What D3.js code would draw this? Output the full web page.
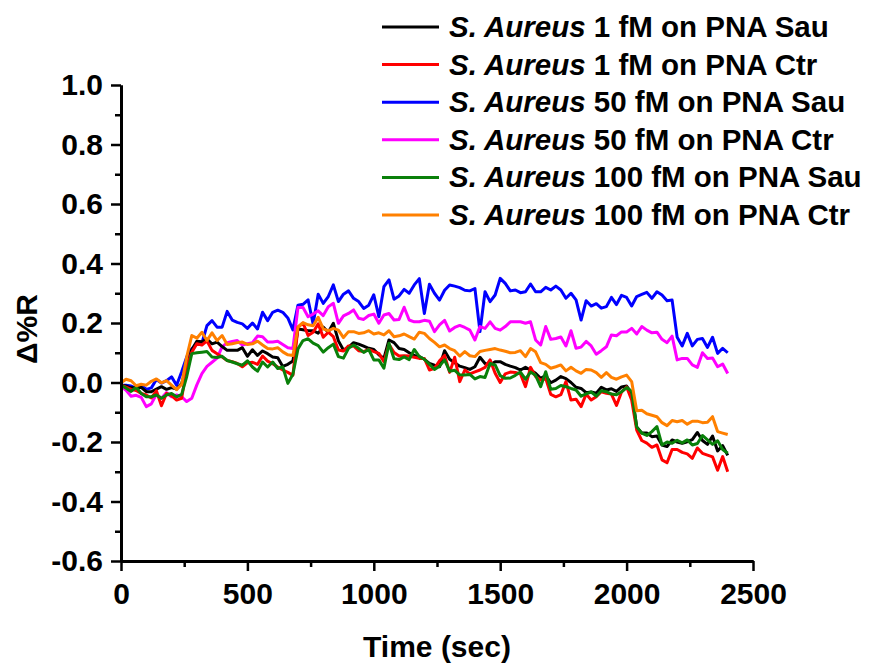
<!DOCTYPE html>
<html>
<head>
<meta charset="utf-8">
<script src="https://cdn.jsdelivr.net/npm/d3@7"></script>
<style>
  html, body { margin: 0; padding: 0; background: #fff; }
  svg { display: block; font-family: "Liberation Sans", Arial, Helvetica, sans-serif; }
</style>
</head>
<body>
<svg id="chart" width="869" height="663"></svg>
<script>
// Sampling interval of the SPR sensorgrams (seconds)
const sampleStep = 20;

// Δ%R readings, one value per sample, starting at t = 0 s
const sau1fM = [
-0.01,-0.012,-0.018,-0.018,-0.016,-0.031,-0.031,-0.022,-0.014,-0.023,
-0.017,-0.022,-0.003,0.052,0.11,0.139,0.137,0.146,0.13,0.136,
0.121,0.108,0.108,0.108,0.117,0.088,0.11,0.091,0.106,0.097,
0.086,0.083,0.054,0.061,0.072,0.18,0.177,0.174,0.174,0.166,
0.186,0.169,0.199,0.14,0.109,0.118,0.134,0.129,0.122,0.115,
0.111,0.093,0.081,0.143,0.134,0.114,0.111,0.1,0.091,0.087,
0.078,0.064,0.058,0.053,0.107,0.078,0.066,0.055,0.05,0.044,
0.053,0.085,0.064,0.059,0.07,0.07,0.061,0.055,0.05,0.042,
0.051,0.042,0.031,0.014,0.023,-0.001,0.008,0.02,0.013,0.0,
-0.016,-0.02,-0.034,-0.032,-0.036,-0.016,-0.025,-0.021,-0.03,-0.015,
-0.012,-0.036,-0.149,-0.17,-0.17,-0.182,-0.18,-0.21,-0.215,-0.193,
-0.2,-0.204,-0.199,-0.192,-0.168,-0.195,-0.208,-0.18,-0.23,-0.212,
-0.245];

const ctr1fM = [
-0.009,-0.016,-0.023,-0.027,-0.037,-0.042,-0.052,-0.028,-0.078,-0.037,
-0.044,-0.059,-0.053,0.052,0.102,0.13,0.126,0.14,0.108,0.097,
0.086,0.074,0.07,0.064,0.053,0.066,0.068,0.061,0.089,0.072,
0.063,0.052,0.042,0.034,0.024,0.186,0.2,0.158,0.169,0.197,
0.152,0.169,0.154,0.109,0.106,0.123,0.123,0.107,0.104,0.111,
0.104,0.098,0.07,0.128,0.101,0.089,0.09,0.089,0.085,0.081,
0.081,0.042,0.048,0.073,0.091,0.034,0.085,0.003,0.042,0.029,
0.036,0.042,0.051,0.076,0.031,0.0,0.029,0.035,0.034,0.029,
-0.014,0.051,0.02,0.008,0.014,-0.04,-0.048,-0.041,0.003,-0.059,
-0.056,-0.081,-0.039,-0.059,-0.048,-0.031,-0.036,-0.039,-0.077,-0.032,
-0.015,-0.059,-0.16,-0.195,-0.204,-0.218,-0.21,-0.26,-0.27,-0.225,
-0.225,-0.235,-0.24,-0.255,-0.22,-0.238,-0.244,-0.25,-0.295,-0.249,
-0.3];

const sau50fM = [
-0.009,-0.009,-0.012,-0.019,-0.009,-0.023,-0.018,0.01,-0.002,0.006,
0.019,-0.009,0.036,0.086,0.113,0.13,0.132,0.191,0.208,0.186,
0.186,0.239,0.21,0.202,0.197,0.182,0.2,0.18,0.236,0.208,
0.236,0.243,0.236,0.217,0.177,0.26,0.263,0.278,0.197,0.297,
0.266,0.289,0.328,0.272,0.297,0.308,0.283,0.272,0.249,0.26,
0.295,0.221,0.322,0.345,0.28,0.291,0.313,0.3,0.328,0.349,
0.232,0.33,0.3,0.277,0.31,0.328,0.324,0.319,0.31,0.308,
0.316,0.171,0.305,0.272,0.294,0.35,0.333,0.308,0.311,0.302,
0.305,0.331,0.305,0.305,0.32,0.311,0.324,0.311,0.283,0.3,
0.278,0.21,0.275,0.257,0.265,0.25,0.255,0.286,0.262,0.293,
0.286,0.257,0.289,0.296,0.303,0.283,0.305,0.294,0.275,0.277,
0.152,0.123,0.165,0.123,0.145,0.148,0.118,0.152,0.098,0.115,
0.1];

const ctr50fM = [
-0.013,-0.026,-0.046,-0.043,-0.05,-0.081,-0.072,-0.04,-0.053,-0.034,
-0.048,-0.042,-0.048,-0.064,-0.053,-0.008,0.03,0.054,0.068,0.082,
0.12,0.134,0.138,0.141,0.126,0.13,0.134,0.156,0.154,0.136,
0.136,0.139,0.128,0.117,0.114,0.252,0.252,0.221,0.23,0.241,
0.225,0.255,0.266,0.199,0.224,0.232,0.244,0.216,0.212,0.225,
0.23,0.199,0.227,0.232,0.21,0.212,0.253,0.21,0.204,0.204,
0.209,0.206,0.171,0.194,0.209,0.173,0.185,0.192,0.185,0.176,
0.143,0.188,0.182,0.204,0.182,0.176,0.188,0.204,0.204,0.204,
0.199,0.204,0.143,0.126,0.188,0.145,0.148,0.153,0.123,0.174,
0.115,0.119,0.138,0.123,0.095,0.107,0.12,0.16,0.157,0.17,
0.17,0.182,0.163,0.188,0.176,0.167,0.169,0.145,0.134,0.156,
0.076,0.081,0.081,0.059,0.051,0.1,0.081,0.082,0.053,0.062,
0.03];

const sau100fM = [
-0.009,-0.019,-0.03,-0.016,-0.037,-0.048,-0.048,-0.042,-0.053,-0.042,
-0.037,-0.048,-0.04,0.02,0.097,0.1,0.102,0.104,0.086,0.084,
0.088,0.074,0.069,0.063,0.058,0.073,0.052,0.038,0.069,0.052,
0.069,0.047,0.052,-0.003,0.028,0.113,0.141,0.147,0.132,0.124,
0.102,0.117,0.129,0.087,0.082,0.115,0.126,0.115,0.101,0.111,
0.076,0.076,0.048,0.132,0.08,0.077,0.086,0.077,0.111,0.087,
0.078,0.061,0.044,0.055,0.076,0.038,0.041,0.026,0.025,0.027,
0.012,0.02,0.017,0.064,0.059,0.023,0.014,0.015,0.024,0.035,
0.011,0.035,0.024,-0.014,0.036,-0.023,-0.02,-0.01,-0.014,-0.02,
-0.025,-0.046,-0.038,-0.032,-0.046,-0.028,-0.031,-0.039,-0.041,-0.031,
-0.017,-0.03,-0.15,-0.17,-0.178,-0.165,-0.148,-0.21,-0.2,-0.204,
-0.194,-0.203,-0.193,-0.21,-0.205,-0.178,-0.193,-0.208,-0.196,-0.225,
-0.238];

const ctr100fM = [
-0.001,0.011,0.006,-0.011,-0.006,-0.009,0.004,0.012,-0.001,0.006,
-0.009,-0.024,-0.006,0.086,0.158,0.149,0.169,0.141,0.167,0.141,
0.158,0.128,0.13,0.134,0.136,0.128,0.13,0.139,0.126,0.114,
0.113,0.117,0.103,0.093,0.091,0.186,0.201,0.194,0.191,0.219,
0.18,0.174,0.182,0.176,0.151,0.171,0.171,0.165,0.167,0.174,
0.163,0.167,0.16,0.174,0.154,0.157,0.163,0.154,0.146,0.169,
0.165,0.148,0.135,0.12,0.126,0.114,0.107,0.089,0.104,0.09,
0.087,0.104,0.108,0.111,0.114,0.109,0.105,0.1,0.101,0.107,
0.087,0.114,0.103,0.067,0.061,0.048,0.053,0.059,0.039,0.051,
0.039,0.031,0.044,0.042,0.033,0.017,0.033,0.017,0.011,0.019,
0.025,0.003,-0.095,-0.093,-0.105,-0.11,-0.115,-0.135,-0.145,-0.128,
-0.132,-0.128,-0.14,-0.13,-0.13,-0.135,-0.134,-0.115,-0.165,-0.17,
-0.175];

// Legend entries (italic species name + plain remainder), colours, and data
const seriesNames = [
  ["S. Aureus", " 1 fM on PNA Sau"],
  ["S. Aureus", " 1 fM on PNA Ctr"],
  ["S. Aureus", " 50 fM on PNA Sau"],
  ["S. Aureus", " 50 fM on PNA Ctr"],
  ["S. Aureus", " 100 fM on PNA Sau"],
  ["S. Aureus", " 100 fM on PNA Ctr"]
];
const seriesColors = ["#000000", "#ff0000", "#0000ff", "#ff00ff", "#0a800a", "#ff8000"];
const seriesValues = [sau1fM, ctr1fM, sau50fM, ctr50fM, sau100fM, ctr100fM];
// drawing order (later on top)
const drawOrder = [2, 3, 0, 1, 4, 5];

const xTicks = [0, 500, 1000, 1500, 2000, 2500];
const xMinorTicks = [250, 750, 1250, 1750, 2250];
const yTicks = [-0.6, -0.4, -0.2, 0.0, 0.2, 0.4, 0.6, 0.8, 1.0];
const yMinorTicks = [-0.5, -0.3, -0.1, 0.1, 0.3, 0.5, 0.7, 0.9];

const plot = { left: 121, right: 753, top: 85, bottom: 561 };

const svg = d3.select("#chart");

const x = d3.scaleLinear().domain([0, 2500]).range([plot.left, plot.right]);
const y = d3.scaleLinear().domain([-0.6, 1.0]).range([plot.bottom, plot.top]);

// Series lines
const line = d3.line()
  .x((d, i) => x(i * sampleStep))
  .y(d => y(d));

const lines = svg.append("g").attr("class", "series");
drawOrder.forEach(k => {
  lines.append("path")
    .datum(seriesValues[k])
    .attr("fill", "none")
    .attr("stroke", seriesColors[k])
    .attr("stroke-width", 3)
    .attr("stroke-linejoin", "round")
    .attr("d", line);
});

// Axes
function styleAxis(g, fontSize) {
  g.select(".domain").attr("stroke", "#000").attr("stroke-width", 3);
  g.selectAll(".tick line").attr("stroke", "#000").attr("stroke-width", 2.5);
  g.selectAll(".tick text")
    .attr("fill", "#000")
    .style("font-size", fontSize + "px")
    .style("font-weight", "bold")
    .style("font-family", '"Liberation Sans", Arial, Helvetica, sans-serif');
}

const xAxisMinor = svg.append("g")
  .attr("transform", `translate(0,${plot.bottom})`)
  .call(d3.axisBottom(x).tickValues(xMinorTicks).tickSize(6).tickSizeOuter(0).tickFormat(""));
styleAxis(xAxisMinor, 30);

const xAxis = svg.append("g")
  .attr("transform", `translate(0,${plot.bottom})`)
  .call(d3.axisBottom(x).tickValues(xTicks).tickSize(10).tickSizeOuter(0).tickPadding(10).tickFormat(d => String(d)));
styleAxis(xAxis, 30);
xAxis.selectAll(".tick text").attr("dy", "0.75em");

const yAxisMinor = svg.append("g")
  .attr("transform", `translate(${plot.left},0)`)
  .call(d3.axisLeft(y).tickValues(yMinorTicks).tickSize(6).tickSizeOuter(0).tickFormat(""));
styleAxis(yAxisMinor, 30);

const yAxis = svg.append("g")
  .attr("transform", `translate(${plot.left},0)`)
  .call(d3.axisLeft(y).tickValues(yTicks).tickSize(10).tickSizeOuter(0).tickPadding(8)
    .tickFormat(d => (Math.abs(d) < 1e-9 ? 0 : d).toFixed(1)));
styleAxis(yAxis, 30);

// Axis titles
svg.append("text")
  .attr("x", (plot.left + plot.right) / 2)
  .attr("y", 657)
  .attr("text-anchor", "middle")
  .style("font-size", "30px")
  .style("font-weight", "bold")
  .text("Time (sec)");

svg.append("text")
  .attr("transform", "translate(37,329) rotate(-90)")
  .attr("text-anchor", "middle")
  .style("font-size", "30px")
  .style("font-weight", "bold")
  .text("Δ%R");

// Legend
const legend = svg.append("g").attr("class", "legend");
const legendRowY = d3.scaleLinear().domain([0, 5]).range([27, 215]);
seriesNames.forEach((name, i) => {
  const yy = legendRowY(i);
  legend.append("line")
    .attr("x1", 382).attr("x2", 439)
    .attr("y1", yy).attr("y2", yy)
    .attr("stroke", seriesColors[i])
    .attr("stroke-width", 3);
  const t = legend.append("text")
    .attr("x", 449)
    .attr("y", yy + 10)
    .style("font-size", "29.5px")
    .style("font-weight", "bold");
  t.append("tspan").style("font-style", "italic").text(name[0]);
  t.append("tspan").text(name[1]);
});
</script>
</body>
</html>
